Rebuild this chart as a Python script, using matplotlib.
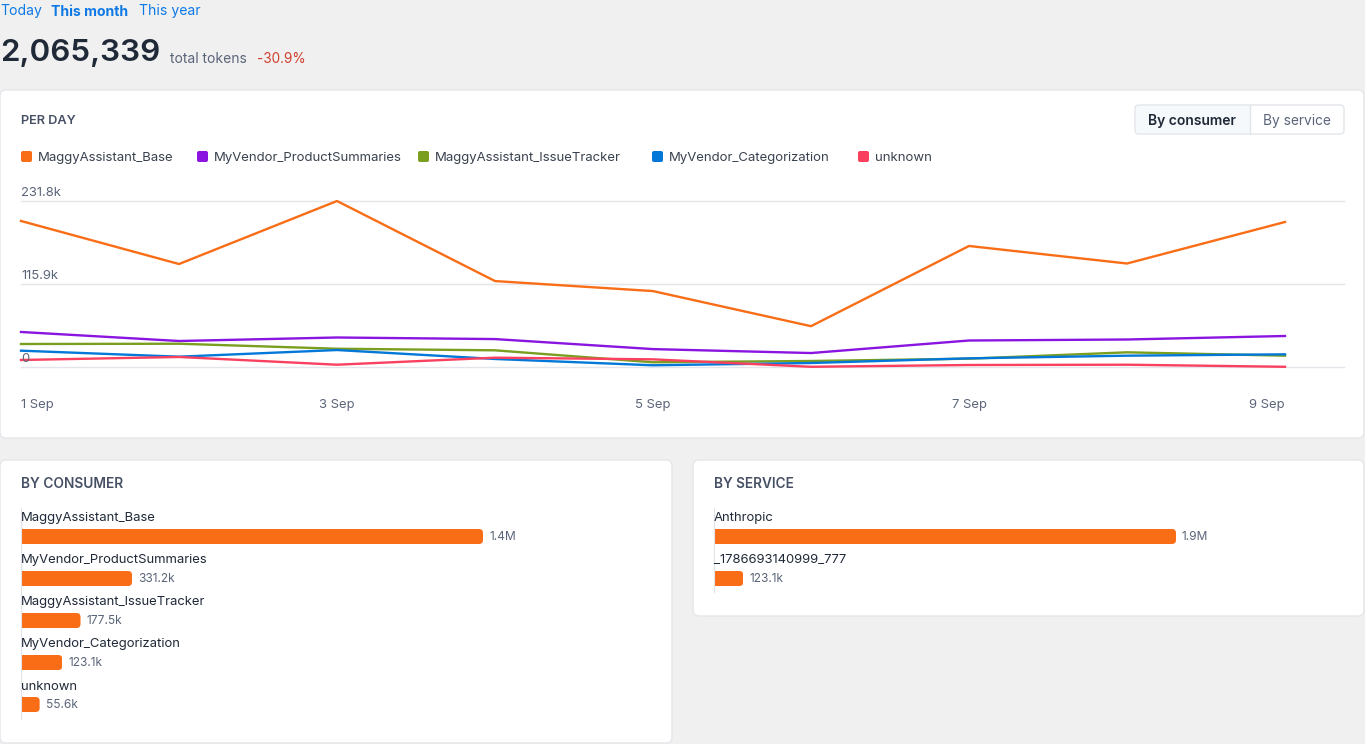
import matplotlib
matplotlib.use('Agg')
import matplotlib.pyplot as plt
from matplotlib.patches import FancyBboxPatch, Rectangle
from matplotlib.transforms import IdentityTransform

plt.rcParams['font.family'] = ['Inter', 'DejaVu Sans']

W, H = 1365, 744

days = [1, 2, 3, 4, 5, 6, 7, 8, 9]
day_ticks = [1, 3, 5, 7, 9]
day_labels = ['1 Sep', '3 Sep', '5 Sep', '7 Sep', '9 Sep']
y_ticks = [0, 115.9, 231.8]
y_labels = ['0', '115.9k', '231.8k']

base = [203.9, 143.8, 231.8, 120.0, 106.0, 57.0, 169.0, 144.5, 202.5]
summaries = [48.9, 36.3, 41.2, 39.0, 25.0, 19.5, 37.0, 38.4, 43.3]
issue_tracker = [32.1, 32.5, 25.5, 23.3, 6.6, 8.4, 11.6, 20.5, 15.8]
categorization = [22.8, 14.4, 23.7, 11.2, 2.4, 5.6, 12.1, 15.8, 17.7]
unknown = [9.8, 14.0, 3.2, 13.0, 10.7, 0.3, 2.8, 3.2, 0.3]

consumers = ['MaggyAssistant_Base', 'MyVendor_ProductSummaries', 'MaggyAssistant_IssueTracker',
             'MyVendor_Categorization', 'unknown']
consumer_totals = [1377.9, 331.2, 177.5, 123.1, 55.6]
consumer_labels = ['1.4M', '331.2k', '177.5k', '123.1k', '55.6k']
services = ['Anthropic', '_1786693140999_777']
service_totals = [1942.2, 123.1]
service_labels = ['1.9M', '123.1k']

ORANGE = '#f96d16'
colors = ['#f96d16', '#8a14e0', '#7a9e1f', '#0478d8', '#f9405f']
BG = '#f0f0f0'
BORDER = '#e4e6ea'
DARK = '#1f2937'
GREY = '#5b6579'
BLUE = '#0f7ae5'


def px_axes(fig, x0, y0, x1, y1):
    # pixel box measured from the top left of the picture
    return fig.add_axes([x0 / W, 1 - y1 / H, (x1 - x0) / W, (y1 - y0) / H])


def card(ax, x0, y0, x1, y1):
    ax.add_patch(FancyBboxPatch((x0, y0), x1 - x0, y1 - y0, boxstyle='round,pad=0,rounding_size=6',
                                fc='white', ec=BORDER, lw=1))


def plot_bars(fig, names, totals, labels, x0, y_top, y_bottom):
    ax = px_axes(fig, x0, y_top, x0 + 640, y_bottom)
    ax.patch.set_alpha(0)
    row = 42
    ax.set_xlim(0, max(totals) * 640 / 462)
    ax.set_ylim((y_bottom - y_top - 28.5) / row, -28.5 / row)
    for s in ['top', 'right', 'bottom']:
        ax.spines[s].set_visible(False)
    ax.spines['left'].set_color('#e1e3e8')
    ax.set_xticks([])
    ax.set_yticks([])
    bars = ax.barh(range(len(names)), totals, height=15 / row, color=ORANGE, linewidth=0)
    fig.canvas.draw()
    for i, bar in enumerate(bars):
        (a, b), (c, d) = ax.transData.transform([(0, bar.get_y()), (bar.get_width(), bar.get_y() + bar.get_height())])
        # square left edge, rounded right edge
        clip = FancyBboxPatch((a - 10, min(b, d)), c - a + 10, abs(d - b), boxstyle='round,pad=0,rounding_size=4',
                              transform=IdentityTransform())
        bar.set_clip_path(clip)
        ax.annotate(names[i], (0, i), xytext=(0, 18 * 0.72), textcoords='offset points',
                    fontsize=9.4, color=DARK, va='center', ha='left')
        ax.annotate(labels[i], (totals[i], i), xytext=(6 * 0.72, -0.7), textcoords='offset points',
                    fontsize=8.6, color=GREY, va='center', ha='left')
    return ax


fig = plt.figure(figsize=(W / 100, H / 100), dpi=100, facecolor=BG)

# page furniture, in pixels
ui = fig.add_axes([0, 0, 1, 1])
ui.set_xlim(0, W)
ui.set_ylim(H, 0)
ui.axis('off')
card(ui, 0, 90, 1364, 438)
card(ui, 0, 460, 672, 743)
card(ui, 693, 460, 1364, 616)

ui.text(0, 11.5, 'Today', fontsize=10.1, color=BLUE, va='center')
ui.text(51, 11.5, 'This month', fontsize=10.1, color=BLUE, va='center', fontweight='bold')
ui.text(139, 11.5, 'This year', fontsize=10.1, color=BLUE, va='center')
ui.text(0, 53, '2,065,339', fontsize=22.6, color=DARK, va='center', fontweight='semibold')
ui.text(170, 59, 'total tokens', fontsize=10, color=GREY, va='center')
ui.text(257, 59, '-30.9%', fontsize=9.8, color='#d13f2e', va='center')

for x, y, title, size in [(21, 121.5, 'PER DAY', 9.2), (21, 484.5, 'BY CONSUMER', 9.9), (714, 484.5, 'BY SERVICE', 9.8)]:
    ui.text(x, y, title, fontsize=size, color='#465064', va='center', fontweight='semibold')

ui.add_patch(FancyBboxPatch((1135, 105), 209, 29, boxstyle='round,pad=0,rounding_size=4',
                            fc='white', ec='#e1e5ea', lw=1))
ui.add_patch(Rectangle((1136, 106), 114, 27, fc='#f5f9fc', ec='none'))
ui.plot([1250, 1250], [105, 134], color='#e1e5ea', lw=1)
ui.text(1148, 121, 'By consumer', fontsize=10, color=DARK, va='center', fontweight='semibold')
ui.text(1263, 121, 'By service', fontsize=9.9, color=GREY, va='center')

legend_x = [21, 197, 418, 652, 858]
for x, name, c in zip(legend_x, consumers, colors):
    ui.add_patch(FancyBboxPatch((x, 151), 11, 11, boxstyle='round,pad=0,rounding_size=2', fc=c, ec='none'))
    ui.text(x + 17, 158, name, fontsize=9.45, color='#39424f', va='center')

# per day lines
ax = px_axes(fig, 21, 201, 1344, 367)
ax.patch.set_alpha(0)
ax.set_xlim(1, 1 + 1323 / 158)
ax.set_ylim(0, 231.8)
for s in ax.spines.values():
    s.set_visible(False)
ax.set_yticks(y_ticks)
ax.set_yticklabels([])
ax.tick_params(axis='y', length=0)
ax.grid(axis='y', color='#e3e5ea', lw=1, clip_on=False)
ax.set_axisbelow(True)
for series, c in zip([base, summaries, issue_tracker, categorization, unknown], colors):
    ax.plot(days, series, color=c, lw=1.7, clip_on=False)
for v, lab in zip(y_ticks, y_labels):
    ax.annotate(lab, (1, v), xytext=(0, 8 * 0.72), textcoords='offset points', fontsize=9.4,
                color=GREY, va='center', ha='left')
ax.set_xticks(day_ticks)
ax.set_xticklabels(day_labels, fontsize=9.4, color=GREY)
ax.tick_params(axis='x', length=0, pad=23)
ticks = ax.get_xticklabels()
ticks[0].set_ha('left')
ticks[-1].set_ha('right')

plot_bars(fig, consumers, consumer_totals, consumer_labels, 21, 508, 719)
plot_bars(fig, services, service_totals, service_labels, 714, 508, 592)

fig.savefig('out.png', dpi=100, facecolor=BG)
